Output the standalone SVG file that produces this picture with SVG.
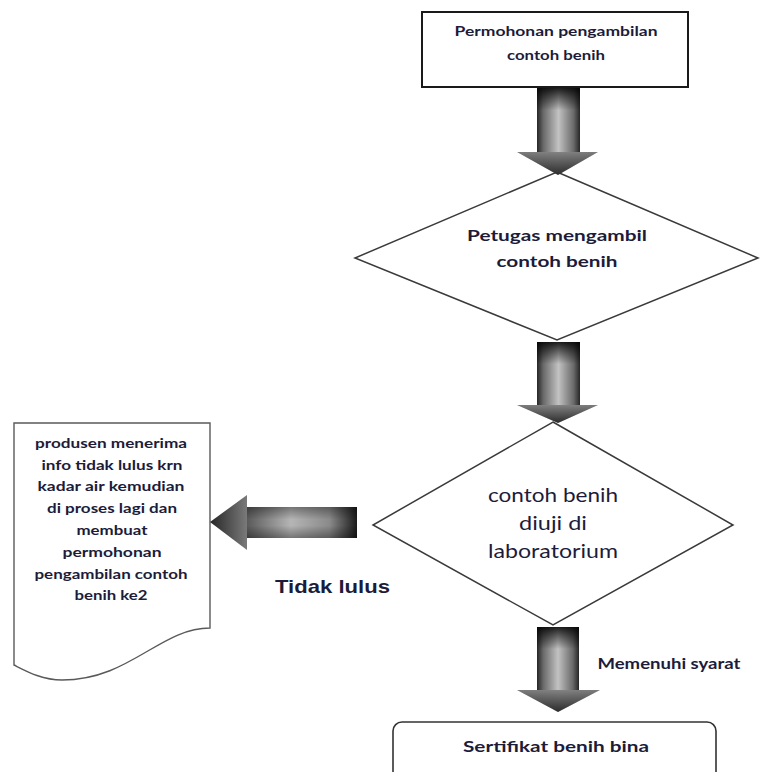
<svg xmlns="http://www.w3.org/2000/svg" width="764" height="772" viewBox="0 0 764 772">
  <defs>
    <style>
      .box { fill: #ffffff; stroke: #1a1a1a; stroke-width: 2; }
      .dia { fill: #ffffff; stroke: #3a3a3a; stroke-width: 1.5; }
      .doc { fill: #ffffff; stroke: #5a5a5a; stroke-width: 1.4; }
      .cert { fill: #ffffff; stroke: #333333; stroke-width: 1.6; }
      .t { font-family: Lato, "Open Sans", "Liberation Sans", sans-serif; font-weight: bold; fill: #1c1c3a; text-anchor: middle; }
      .reg { font-weight: normal; }
      .lbl { font-family: "Liberation Sans", Arial, sans-serif; font-weight: bold; fill: #1c1c3a; }
    </style>
    <!-- shading for the vertical block arrows -->
    <linearGradient id="shaftH" x1="0" y1="0" x2="1" y2="0">
      <stop offset="0" stop-color="#262626"/>
      <stop offset="0.15" stop-color="#6a6a6a"/>
      <stop offset="0.5" stop-color="#c2c2c2"/>
      <stop offset="0.85" stop-color="#6a6a6a"/>
      <stop offset="1" stop-color="#262626"/>
    </linearGradient>
    <linearGradient id="shaftTop" x1="0" y1="0" x2="0" y2="1">
      <stop offset="0" stop-color="#000000" stop-opacity="0.85"/>
      <stop offset="0.35" stop-color="#000000" stop-opacity="0"/>
      <stop offset="1" stop-color="#000000" stop-opacity="0"/>
    </linearGradient>
    <linearGradient id="headV" x1="0" y1="0" x2="0" y2="1">
      <stop offset="0" stop-color="#9a9a9a"/>
      <stop offset="1" stop-color="#333333"/>
    </linearGradient>
    <linearGradient id="headSide" x1="0" y1="0" x2="1" y2="0">
      <stop offset="0" stop-color="#000000" stop-opacity="0.2"/>
      <stop offset="0.5" stop-color="#000000" stop-opacity="0.15"/>
      <stop offset="1" stop-color="#000000" stop-opacity="0.2"/>
    </linearGradient>
    <!-- shading for the horizontal block arrow -->
    <linearGradient id="shaftL" x1="0" y1="0" x2="1" y2="0">
      <stop offset="0" stop-color="#5a5a5a"/>
      <stop offset="0.4" stop-color="#b5b5b5"/>
      <stop offset="0.75" stop-color="#8a8a8a"/>
      <stop offset="1" stop-color="#1a1a1a"/>
    </linearGradient>
    <linearGradient id="shaftLEdge" x1="0" y1="0" x2="0" y2="1">
      <stop offset="0" stop-color="#000000" stop-opacity="0.35"/>
      <stop offset="0.4" stop-color="#000000" stop-opacity="0"/>
      <stop offset="0.6" stop-color="#000000" stop-opacity="0"/>
      <stop offset="1" stop-color="#000000" stop-opacity="0.35"/>
    </linearGradient>
    <linearGradient id="headL" x1="1" y1="0" x2="0" y2="0">
      <stop offset="0" stop-color="#7a7a7a"/>
      <stop offset="1" stop-color="#262626"/>
    </linearGradient>
  </defs>

  <rect width="764" height="772" fill="#ffffff"/>

  <!-- start box -->
  <g id="node-permohonan">
    <rect class="box" x="422" y="12" width="266" height="75"/>
    <text class="t" x="556" y="36" font-size="13.5" textLength="203" lengthAdjust="spacingAndGlyphs">Permohonan pengambilan</text>
    <text class="t" x="556" y="60" font-size="13.5" textLength="98" lengthAdjust="spacingAndGlyphs">contoh benih</text>
  </g>

  <!-- sampling step -->
  <g id="node-petugas">
    <polygon class="dia" points="557,172 758,258 557,340 355,258"/>
    <text class="t" x="557" y="241" font-size="16" textLength="180" lengthAdjust="spacingAndGlyphs">Petugas mengambil</text>
    <text class="t" x="557" y="267" font-size="16" textLength="121" lengthAdjust="spacingAndGlyphs">contoh benih</text>
  </g>

  <!-- laboratory test -->
  <g id="node-uji">
    <polygon class="dia" points="553,422 733,525 553,625 373,525"/>
    <text class="t reg" x="553" y="502" font-size="19" textLength="130" lengthAdjust="spacingAndGlyphs">contoh benih</text>
    <text class="t reg" x="553" y="530" font-size="19" textLength="68" lengthAdjust="spacingAndGlyphs">diuji di</text>
    <text class="t reg" x="553" y="558" font-size="19" textLength="130" lengthAdjust="spacingAndGlyphs">laboratorium</text>
  </g>

  <!-- failed-test document -->
  <g id="node-produsen">
    <path class="doc" d="M14,423 H210 V628 C160,628 130,680 62,680 C42,680 26,671 14,665 Z"/>
    <text class="t" x="111" y="448" font-size="13" textLength="152" lengthAdjust="spacingAndGlyphs">produsen menerima</text>
    <text class="t" x="112" y="470" font-size="13" textLength="141" lengthAdjust="spacingAndGlyphs">info tidak lulus krn</text>
    <text class="t" x="111" y="491" font-size="13" textLength="147" lengthAdjust="spacingAndGlyphs">kadar air kemudian</text>
    <text class="t" x="112" y="513" font-size="13" textLength="130" lengthAdjust="spacingAndGlyphs">di proses lagi dan</text>
    <text class="t" x="112" y="535" font-size="13" textLength="71" lengthAdjust="spacingAndGlyphs">membuat</text>
    <text class="t" x="112" y="557" font-size="13" textLength="99" lengthAdjust="spacingAndGlyphs">permohonan</text>
    <text class="t" x="111" y="579" font-size="13" textLength="153" lengthAdjust="spacingAndGlyphs">pengambilan contoh</text>
    <text class="t" x="111" y="600" font-size="13" textLength="73" lengthAdjust="spacingAndGlyphs">benih ke2</text>
  </g>

  <!-- certificate -->
  <g id="node-sertifikat">
    <rect class="cert" x="393" y="722" width="323" height="80" rx="9" ry="9"/>
    <text class="t" x="556" y="752" font-size="16" textLength="186" lengthAdjust="spacingAndGlyphs">Sertifikat benih bina</text>
  </g>

  <!-- block arrows and their labels -->
  <g id="connectors">
    <g id="arrow-1">
      <rect x="537" y="88" width="43" height="64" fill="url(#shaftH)"/>
      <rect x="537" y="88" width="43" height="64" fill="url(#shaftTop)"/>
      <polygon points="517,152 598,152 558,175" fill="url(#headV)"/>
      <polygon points="517,152 598,152 558,175" fill="url(#headSide)"/>
    </g>
    <g id="arrow-2">
      <rect x="537" y="342" width="43" height="63" fill="url(#shaftH)"/>
      <rect x="537" y="342" width="43" height="63" fill="url(#shaftTop)"/>
      <polygon points="517,405 598,405 558,423" fill="url(#headV)"/>
      <polygon points="517,405 598,405 558,423" fill="url(#headSide)"/>
    </g>
    <g id="arrow-3">
      <rect x="537" y="627" width="42" height="63" fill="url(#shaftH)"/>
      <rect x="537" y="627" width="42" height="63" fill="url(#shaftTop)"/>
      <polygon points="517,690 600,690 558,712" fill="url(#headV)"/>
      <polygon points="517,690 600,690 558,712" fill="url(#headSide)"/>
    </g>
    <g id="arrow-4">
      <rect x="247" y="507" width="110" height="31" fill="url(#shaftL)"/>
      <rect x="247" y="507" width="110" height="31" fill="url(#shaftLEdge)"/>
      <polygon points="247,495 247,550 210,522" fill="url(#headL)"/>
    </g>
    <text class="lbl" x="275" y="593" font-size="19" textLength="115" lengthAdjust="spacingAndGlyphs">Tidak lulus</text>
    <text class="t" x="669" y="669" font-size="15" textLength="143" lengthAdjust="spacingAndGlyphs">Memenuhi syarat</text>
  </g>
</svg>
